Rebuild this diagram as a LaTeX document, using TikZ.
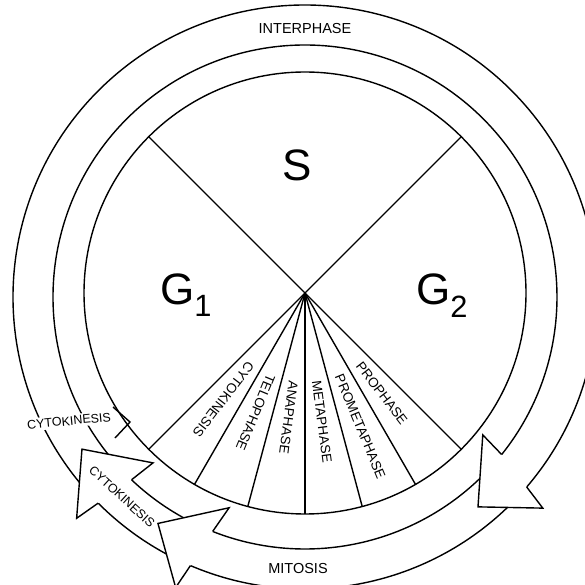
\documentclass[tikz,border=0pt]{standalone}
\usepackage{fontspec}
\setmainfont{Liberation Sans}
\usetikzlibrary{calc}

\begin{document}
\begin{tikzpicture}[x=1pt,y=1pt,line width=1.4pt,
  every node/.style={inner sep=0pt},
  big/.style={font=\fontsize{44}{50}\selectfont},
  phase/.style={font=\fontsize{13.5}{16}\selectfont,anchor=west},
  ring/.style={font=\fontsize{14.5}{17}\selectfont},
  cyto/.style={font=\fontsize{12.5}{15}\selectfont},
  head/.style={fill=white,line join=miter}]
  \useasboundingbox (-305,-288) rectangle (280,297);
  \coordinate (O) at (0,4);

  % the cell and its sectors
  \draw (O) circle (221);
  \foreach \a in {45,135,225,240,...,315}
    \draw (O) -- ($(O)+(\a:221)$);
  \foreach \a/\t [count=\i] in {232.5/CYTOKINESIS,247.5/TELOPHASE,262.5/ANAPHASE,
      277.5/METAPHASE,292.5/PROMETAPHASE,307.5/PROPHASE}
    \node[phase,rotate=\a] (w\i) at ($(O)+(\a:88)$) {\t};

  \node[big] (s) at (-8,132) {S};
  \node[big] (g1) at (-119,2) {G\textsubscript{1}};
  \node[big] (g2) at (137,1) {G\textsubscript{2}};

  % interphase band
  \draw (222:252) arc[start angle=222,end angle=-38.7,radius=252];
  \draw (222:292) arc[start angle=222,end angle=-40.6,radius=292];
  % mitosis band
  \draw (-44:252) arc[start angle=-44,end angle=-111.5,radius=252];
  \draw (-44:292) arc[start angle=-44,end angle=-113.1,radius=292];
  % cytokinesis band
  \draw (-116:252) arc[start angle=-116,end angle=-133.5,radius=252];
  \draw (-116:292) arc[start angle=-116,end angle=-135.1,radius=292];

  % heads
  \draw[head] (-38.7:252) -- (-37.8:225) -- (-50.5:272) -- (-41.6:318) -- (-40.6:292);
  \draw[head] (-111.5:252) -- (-109.8:224) -- (-123:270) -- (-114:318) -- (-113.1:292);
  \draw[head] (-133.5:252) -- (-132.5:225) -- (-145.7:270) -- (-135.9:318) -- (-135.1:292);

  \node[ring] (interphase) at (0,268) {INTERPHASE};
  \node[ring] (mitosis) at (-7,-272) {MITOSIS};
  \node[cyto,rotate=-42.5] (cytoArrow) at (-132.5:271) {CYTOKINESIS};

  \node[cyto,rotate=5.6,fill=white,inner sep=2pt] (cytoLabel) at (-236,-124) {CYTOKINESIS};
  \coordinate (cytoTip) at (-175,-125);
  \draw ($(cytoTip)+(-17,15)$) -- (cytoTip) -- ++(-15,-16);
\end{tikzpicture}
\end{document}
